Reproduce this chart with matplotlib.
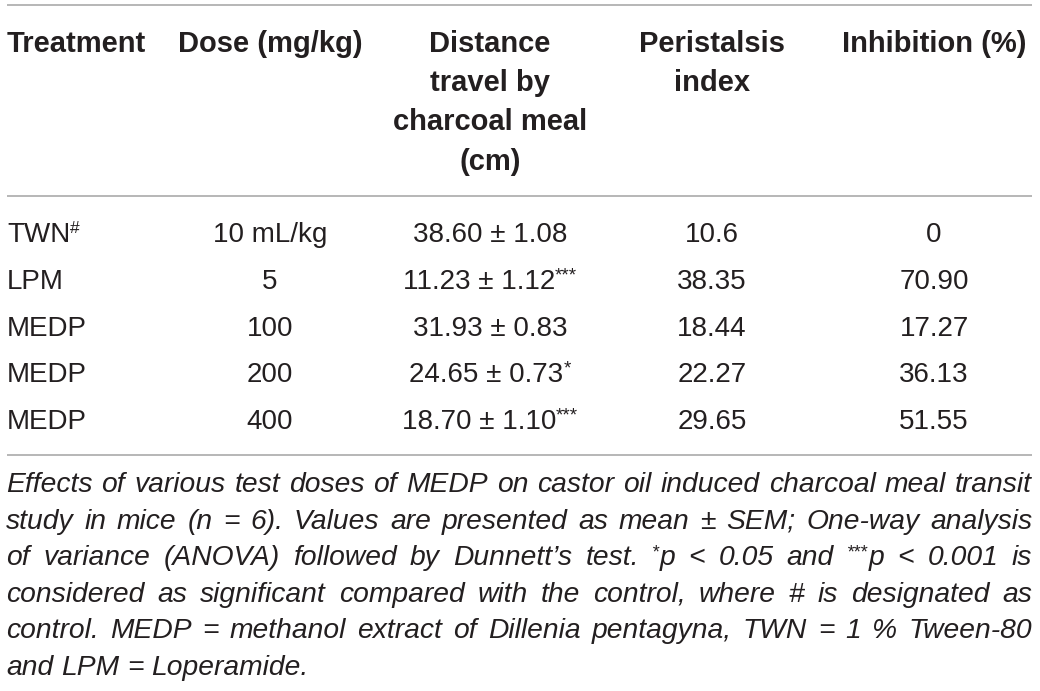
import matplotlib
matplotlib.use("Agg")
import matplotlib.pyplot as plt

plt.rcParams.update({"font.family": ["Liberation Sans", "DejaVu Sans"]})

INK = "#231f20"
RULE = "#a3a3a3"

# ---- table data ----
treatments = ["TWN", "LPM", "MEDP", "MEDP", "MEDP"]
treat_marks = ["#", "", "", "", ""]
doses = ["10 mL/kg", "5", "100", "200", "400"]
dist_mean = [38.60, 11.23, 31.93, 24.65, 18.70]
dist_sem = [1.08, 1.12, 0.83, 0.73, 1.10]
dist_sig = ["", "***", "", "*", "***"]
peristalsis = ["10.6", "38.35", "18.44", "22.27", "29.65"]
inhibition = ["0", "70.90", "17.27", "36.13", "51.55"]

headers = [
    ["Treatment"],
    ["Dose (mg/kg)"],
    ["Distance", "travel by", "charcoal meal", "(cm)"],
    ["Peristalsis", "index"],
    ["Inhibition (%)"],
]

# caption lines as broken in the source; {..} marks a superscript
caption = [
    "Effects of various test doses of MEDP on castor oil induced charcoal meal transit",
    "study in mice (n = 6). Values are presented as mean \u00b1 SEM; One-way analysis",
    "of variance (ANOVA) followed by Dunnett\u2019s test. {*}p < 0.05 and {***}p < 0.001 is",
    "considered as significant compared with the control, where # is designated as",
    "control. MEDP = methanol extract of Dillenia pentagyna, TWN = 1 % Tween-80",
    "and LPM = Loperamide.",
]

W, H = 1040, 691
fig = plt.figure(figsize=(W / 100, H / 100), dpi=100)
ax = fig.add_axes([0, 0, 1, 1])
ax.set_xlim(0, W); ax.set_ylim(H, 0); ax.axis("off")
rend = fig.canvas.get_renderer()

FS = 20.0      # table text
HFS = 21.0     # header (bold)
CFS = 20.3     # caption


def width(txt, **kw):
    t = ax.text(0, 0, txt, **kw)
    w = t.get_window_extent(rend).width
    t.remove()
    return w


def runs_width(runs):
    return sum(width(s, fontsize=fs, fontweight=fw, fontstyle=st) for s, fs, fw, st, _ in runs)


def draw_runs(x, y, runs, ha="left"):
    total = runs_width(runs)
    if ha == "center":
        x -= total / 2
    elif ha == "right":
        x -= total
    for s, fs, fw, st, rise in runs:
        ax.text(x, y - rise, s, fontsize=fs, fontweight=fw, fontstyle=st,
                color=INK, ha="left", va="baseline")
        x += width(s, fontsize=fs, fontweight=fw, fontstyle=st)


def rule(y):
    ax.plot([7, 1032], [y, y], color=RULE, lw=1.1, solid_capstyle="butt")


# ---- rules ----
rule(5)
rule(196)
rule(455)

# ---- header ----
col_x = [7, 270, 490, 712, 934]
col_ha = ["left", "center", "center", "center", "center"]
for cx, ha, lines in zip(col_x, col_ha, headers):
    for i, line in enumerate(lines):
        ax.text(cx, 52 + 39.2 * i, line, fontsize=HFS, fontweight="bold",
                color=INK, ha=ha, va="baseline")

# ---- body ----
row_y = [242 + 46.8 * i for i in range(len(treatments))]
for i, y in enumerate(row_y):
    r = [(treatments[i], FS, "normal", "normal", 0)]
    if treat_marks[i]:
        r.append((treat_marks[i], 12.5, "normal", "normal", 9.5))
    draw_runs(col_x[0], y, r, "left")

    ax.text(col_x[1], y, doses[i], fontsize=FS, color=INK, ha="center", va="baseline")

    r = [(f"{dist_mean[i]:.2f} \u00b1 {dist_sem[i]:.2f}", FS, "normal", "normal", 0)]
    if dist_sig[i]:
        r.append((dist_sig[i], 13.5, "normal", "normal", 8.5))
    draw_runs(col_x[2], y, r, "center")

    ax.text(col_x[3], y, peristalsis[i], fontsize=FS, color=INK, ha="center", va="baseline")
    ax.text(col_x[4], y, inhibition[i], fontsize=FS, color=INK, ha="center", va="baseline")

# ---- caption, justified word by word ----
left, right = 6, 1032


def word_runs(word):
    if word.startswith("{"):
        k = word.index("}")
        return [(word[1:k], 13.0, "normal", "italic", 8),
                (word[k + 1:], CFS, "normal", "italic", 0)]
    return [(word, CFS, "normal", "italic", 0)]


for i, line in enumerate(caption):
    y = 492 + 36.6 * i
    words = [word_runs(w) for w in line.split(" ")]
    widths = [runs_width(w) for w in words]
    last = i == len(caption) - 1
    if last:
        gap = width("a b", fontsize=CFS, fontstyle="italic") - width("ab", fontsize=CFS, fontstyle="italic")
    else:
        gap = (right - left - sum(widths)) / (len(words) - 1)
    x = left
    for w, wd in zip(words, widths):
        draw_runs(x, y, w, "left")
        x += wd + gap

fig.savefig("out.png", dpi=100)
plt.close(fig)
